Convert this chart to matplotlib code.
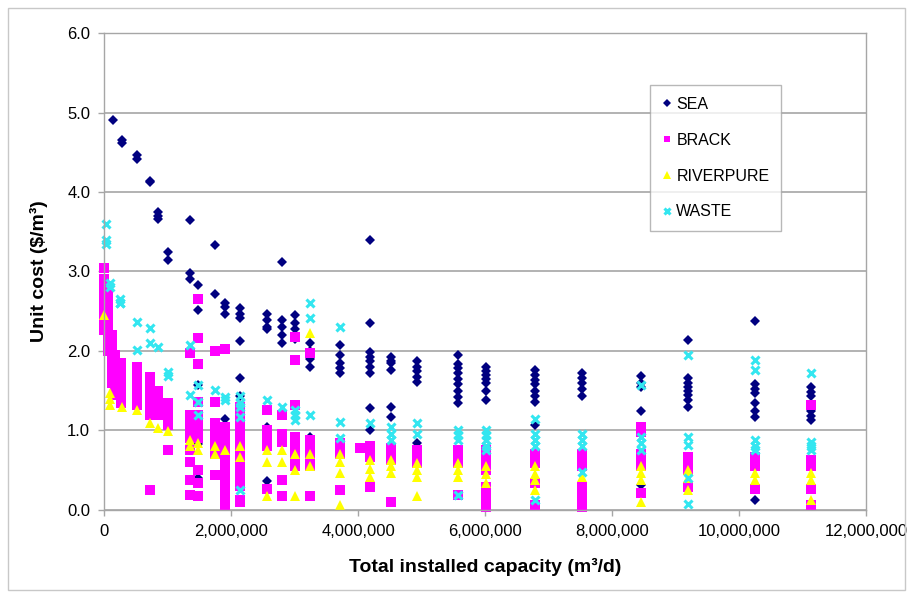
import matplotlib
matplotlib.use("Agg")
import matplotlib.pyplot as plt
from matplotlib.patches import Rectangle
from matplotlib.ticker import FuncFormatter, MultipleLocator

plt.rcParams['font.family'] = ['Liberation Sans', 'DejaVu Sans']

# capacity columns in million m3/d, values in $/m3
sea_caps = [0.14, 0.28, 0.52, 0.72, 0.85, 1.0, 1.36, 1.48, 1.75, 1.9, 2.14, 2.56, 2.8,
            3.0, 3.24, 3.72, 4.19, 4.52, 4.93, 5.58, 6.02, 6.79, 7.53, 8.46, 9.2, 10.25, 11.13]
sea_vals = [[4.9], [4.66, 4.62], [4.46, 4.42], [4.14, 4.12], [3.75, 3.70, 3.66], [3.25, 3.15],
            [3.65, 2.98, 2.90], [2.83, 2.52, 1.57, 0.83, 0.4], [3.33, 2.72],
            [2.6, 2.55, 2.47, 1.15, 0.85], [2.54, 2.47, 2.41, 2.12, 1.66, 1.43, 0.55],
            [2.47, 2.39, 2.3, 2.28, 1.05, 0.36], [3.12, 2.39, 2.3, 2.2, 2.1],
            [2.45, 2.35, 2.28, 2.15], [2.1, 2.0, 1.95, 1.9, 1.8, 0.92],
            [2.07, 1.95, 1.85, 1.78, 1.72], [3.39, 2.35, 1.99, 1.93, 1.88, 1.8, 1.72, 1.28, 1.0],
            [1.93, 1.88, 1.85, 1.76, 1.3, 1.17], [1.87, 1.8, 1.75, 1.67, 1.61, 0.84],
            [1.95, 1.84, 1.78, 1.72, 1.65, 1.58, 1.5, 1.42, 1.34],
            [1.8, 1.75, 1.7, 1.65, 1.6, 1.5, 1.38], [1.76, 1.7, 1.64, 1.58, 1.5, 1.43, 1.36, 1.07],
            [1.72, 1.66, 1.6, 1.52, 1.43, 0.34], [1.68, 1.6, 1.55, 1.25, 0.31],
            [2.14, 1.66, 1.6, 1.55, 1.5, 1.45, 1.38, 1.3],
            [2.38, 1.58, 1.52, 1.47, 1.34, 1.25, 1.17, 0.13], [1.55, 1.48, 1.43, 1.24, 1.18, 1.13]]

brack_caps = [0.0, 0.06, 0.12, 0.18, 0.26, 0.52, 0.72, 0.85, 1.0, 1.36, 1.48, 1.75, 1.9, 2.14,
              2.56, 2.8, 3.0, 3.24, 3.72, 4.03, 4.19, 4.52, 4.93, 5.58, 6.02, 6.79, 7.53, 8.46,
              9.2, 10.25, 11.13]
brack_vals = [[3.04, 2.9, 2.82, 2.74, 2.66, 2.58, 2.5, 2.42, 2.34, 2.27],
              [2.8, 2.7, 2.6, 2.5, 2.4, 2.3, 2.2, 2.1, 2.0],
              [2.2, 2.1, 2.0, 1.9, 1.8, 1.7, 1.6], [1.95, 1.85, 1.75, 1.65, 1.55, 1.45],
              [1.85, 1.75, 1.65, 1.55, 1.45, 1.35], [1.8, 1.7, 1.6, 1.5, 1.4, 1.32],
              [1.67, 1.57, 1.47, 1.37, 1.27, 1.2, 0.25], [1.5, 1.4, 1.3, 1.2],
              [1.35, 1.25, 1.15, 1.07, 0.75],
              [1.97, 1.2, 1.1, 1.0, 0.9, 0.75, 0.6, 0.38, 0.19],
              [2.66, 2.16, 1.84, 1.36, 1.2, 1.1, 1.0, 0.9, 0.5, 0.34, 0.17],
              [2.0, 1.36, 1.09, 1.0, 0.9, 0.8, 0.7, 0.44],
              [2.03, 1.05, 0.95, 0.85, 0.75, 0.65, 0.55, 0.45, 0.35, 0.25, 0.15, 0.05],
              [1.3, 1.2, 1.1, 1.0, 0.9, 0.8, 0.7, 0.6, 0.5, 0.4, 0.3, 0.13, 0.1],
              [1.26, 1.0, 0.9, 0.8, 0.27], [1.2, 0.96, 0.85, 0.38, 0.17],
              [2.18, 1.89, 1.32, 0.92, 0.82, 0.72, 0.62, 0.55],
              [1.97, 0.88, 0.79, 0.7, 0.62, 0.55, 0.17], [0.84, 0.77, 0.71, 0.25], [0.78],
              [0.8, 0.73, 0.67, 0.29], [0.78, 0.7, 0.63, 0.1], [0.75, 0.67, 0.59],
              [0.75, 0.67, 0.59, 0.19], [0.75, 0.67, 0.59, 0.5, 0.29, 0.2, 0.12, 0.04],
              [0.71, 0.65, 0.59, 0.34, 0.06], [0.71, 0.63, 0.55, 0.29, 0.2, 0.12, 0.04],
              [1.05, 0.98, 0.71, 0.63, 0.55, 0.21], [0.67, 0.58, 0.5, 0.29],
              [0.67, 0.61, 0.55, 0.27], [1.32, 0.63, 0.55, 0.27, 0.06]]

river_caps = [0.0, 0.1, 0.28, 0.52, 0.72, 0.85, 1.0, 1.36, 1.48, 1.75, 1.9, 2.14, 2.56, 2.8,
              3.0, 3.24, 3.72, 4.19, 4.52, 4.93, 5.58, 6.02, 6.79, 7.53, 8.46, 9.2, 10.25, 11.13]
river_vals = [[2.45], [1.47, 1.4, 1.32], [1.3], [1.26], [1.1], [1.03], [0.99], [0.88, 0.8],
              [0.84, 0.75], [0.8, 0.71], [0.75], [0.8, 0.67], [0.75, 0.6, 0.17], [0.75, 0.6],
              [0.71, 0.5, 0.17], [2.22, 0.71, 0.55], [0.71, 0.6, 0.46, 0.06], [0.63, 0.52, 0.42],
              [0.63, 0.55, 0.46], [0.59, 0.5, 0.42, 0.17], [0.59, 0.5, 0.42], [0.55, 0.45, 0.34],
              [0.55, 0.45, 0.38, 0.25], [0.42], [0.55, 0.46, 0.38, 0.1], [0.5, 0.4, 0.25],
              [0.46, 0.38], [0.46, 0.38, 0.13]]

waste_caps = [0.03, 0.1, 0.25, 0.52, 0.72, 0.85, 1.0, 1.36, 1.48, 1.75, 1.9, 2.14, 2.56, 2.8,
              3.0, 3.24, 3.72, 4.19, 4.52, 4.93, 5.58, 6.02, 6.79, 7.53, 8.46, 9.2, 10.25, 11.13]
waste_vals = [[3.6, 3.4, 3.35], [2.85, 2.8], [2.65, 2.6, 2.6], [2.37, 2.01], [2.29, 2.1], [2.05],
              [1.74, 1.68], [2.07, 1.45], [1.57, 1.36, 1.2], [1.51], [1.42, 1.38],
              [1.43, 1.35, 1.3, 1.17, 0.25], [1.38], [1.3], [1.26, 1.2, 1.13], [2.6, 2.41, 1.2],
              [2.3, 1.11, 0.9], [1.09], [1.05, 0.95, 0.88], [1.09, 0.96], [1.0, 0.94, 0.88, 0.19],
              [1.0, 0.94, 0.88, 0.8, 0.75], [1.15, 0.96, 0.88, 0.8, 0.13], [0.96, 0.88, 0.8, 0.48],
              [1.57, 0.92, 0.84, 0.75], [1.95, 0.92, 0.82, 0.4, 0.08], [1.89, 1.76, 0.88, 0.8, 0.75],
              [1.72, 0.86, 0.8, 0.75]]


def expand(caps, vals):
    xs, ys = [], []
    for c, col in zip(caps, vals):
        for v in col:
            xs.append(c * 1e6)
            ys.append(v)
    return xs, ys


fig = plt.figure(figsize=(9.11, 5.98), dpi=100)
ax = fig.add_axes([0.1142, 0.1472, 0.8364, 0.7976])

grey = '#a6a6a6'
ax.set_xlim(0, 12e6)
ax.set_ylim(0, 6.0)
ax.yaxis.set_major_locator(MultipleLocator(1.0))
ax.xaxis.set_major_locator(MultipleLocator(2e6))
ax.yaxis.set_major_formatter(FuncFormatter(lambda v, p: f"{v:.1f}"))
ax.xaxis.set_major_formatter(FuncFormatter(lambda v, p: f"{v:,.0f}"))
ax.grid(axis='y', color=grey, linewidth=1.2)
ax.set_axisbelow(True)
for s in ax.spines.values():
    s.set_color(grey)
    s.set_linewidth(1.0)
ax.tick_params(colors='black', labelsize=12, length=4, width=1, pad=6)
ax.tick_params(axis='both', color=grey)

x, y = expand(sea_caps, sea_vals)
ax.plot(x, y, 'D', color='#000080', ms=5.5, mew=0, label='SEA', clip_on=False)
x, y = expand(brack_caps, brack_vals)
ax.plot(x, y, 's', color='#ff00ff', ms=6.5, mew=0, label='BRACK', clip_on=False)
x, y = expand(river_caps, river_vals)
ax.plot(x, y, '^', color='#ffff00', ms=7, mew=0, label='RIVERPURE', clip_on=False)
x, y = expand(waste_caps, waste_vals)
ax.plot(x, y, 'x', color='#33e6f0', ms=6, mew=2.2, label='WASTE', clip_on=False)

leg = ax.legend(loc='upper left', bbox_to_anchor=(0.7165, 0.891), borderaxespad=0,
                fontsize=11.5, frameon=True, fancybox=False, edgecolor=grey,
                labelspacing=1.3, handlelength=0.6, handletextpad=0.3, borderpad=0.75,
                markerscale=0.75)
leg.get_frame().set_linewidth(1.0)

ax.set_xlabel('Total installed capacity (m³/d)', fontsize=14, fontweight='bold', labelpad=14)
ax.set_ylabel('Unit cost ($/m³)', fontsize=14, fontweight='bold', labelpad=14)

fig.patches.append(Rectangle((8 / 911, 8 / 598), 897 / 911, 582 / 598, transform=fig.transFigure,
                             fill=False, edgecolor='#c8c8c8', linewidth=1.0))

fig.savefig('out.png', dpi=100)
